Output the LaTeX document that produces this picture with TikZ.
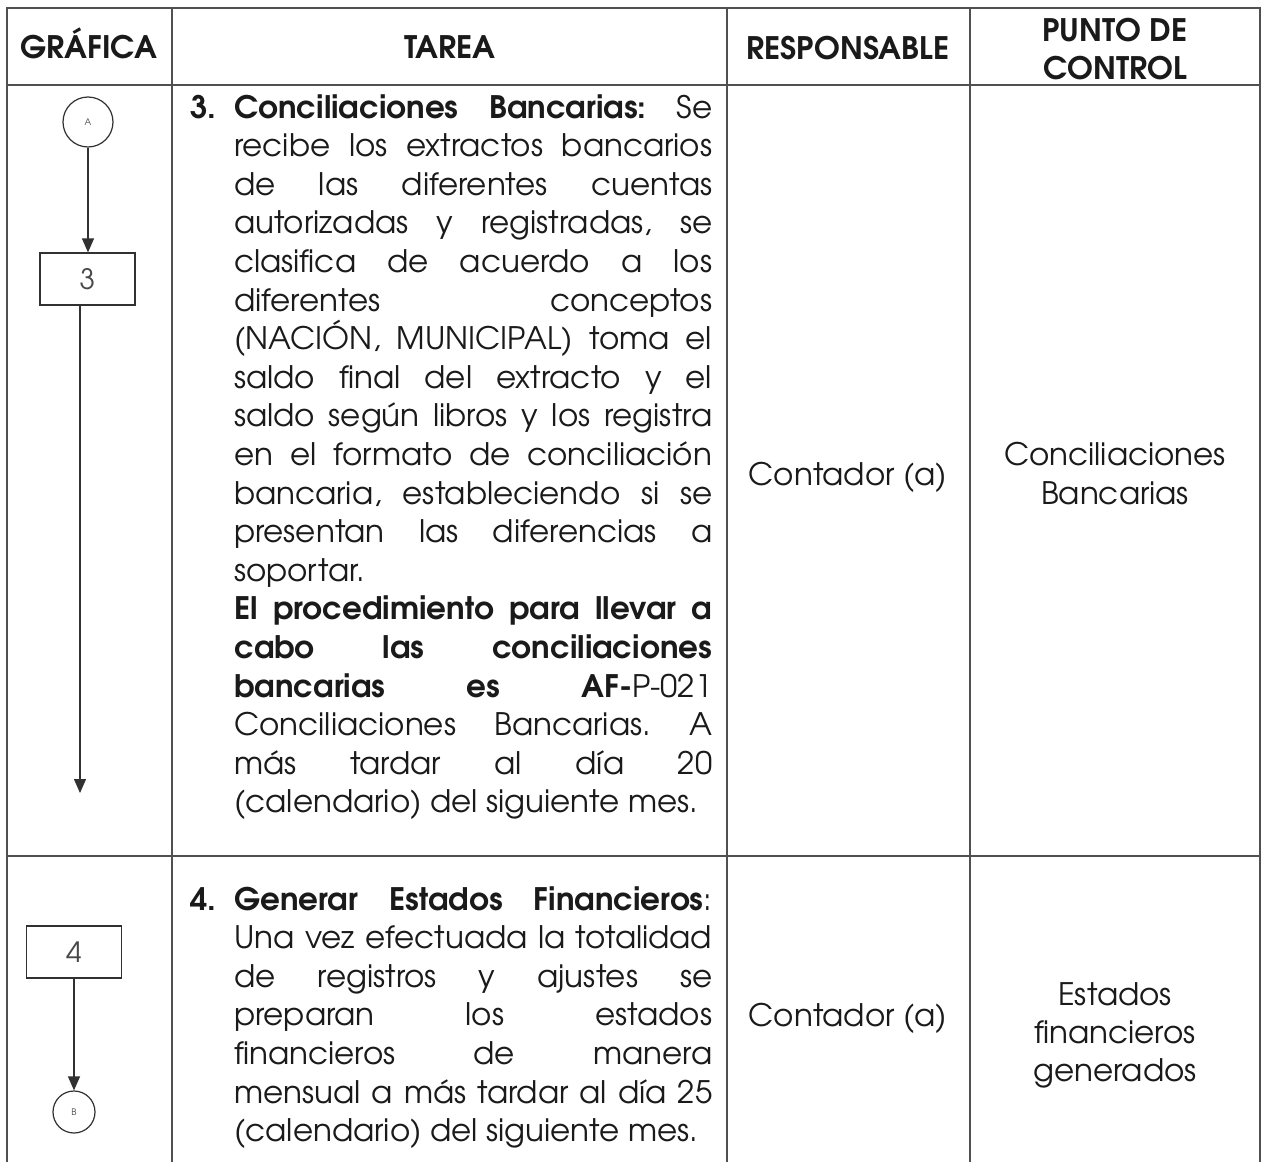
\documentclass[tikz,border=0pt]{standalone}
\usepackage{fontspec}
\setmainfont{TeX Gyre Adventor}
\usetikzlibrary{arrows.meta}
\definecolor{ink}{HTML}{1A1A1A}
\definecolor{rulec}{HTML}{505050}
\newcommand\jl[1]{\makebox[\linewidth][s]{#1}\par}
\newcommand\fl[1]{\makebox[\linewidth][l]{#1}\par}
\newcommand\numlab[1]{\llap{\makebox[44pt][l]{\bfseries #1}}}
\begin{document}
\begin{tikzpicture}[x=1pt,y=-1pt,
  gridline/.style={draw=rulec, line width=1.6pt},
  flow/.style={draw=ink!90, line width=1.2pt},
  arr/.style={flow, -{Triangle[length=14pt,width=12pt]}},
  connector/.style={circle, draw=ink!90, line width=1.2pt, minimum size=50pt, inner sep=0pt, text=ink!80, font=\fontsize{9}{10}\selectfont},
  stepbox/.style={rectangle, draw=ink!90, line width=1.2pt, minimum width=95pt, minimum height=52pt, inner sep=0pt, font=\fontsize{28}{32}\selectfont, text=ink!80},
  head/.style={font=\bfseries\fontsize{31}{36}\selectfont, text=ink, inner sep=0pt, anchor=base},
  body/.style={font=\fontsize{31}{38.6}\selectfont, text=ink, inner sep=0pt},
]
\useasboundingbox (0,0) rectangle (1262,1162);
\fill[white] (0,0) rectangle (1262,1162);
% table
\draw[gridline] (7,1162) -- (7,8) -- (1260,8) -- (1260,1162);
\draw[gridline] (7,85) -- (1260,85);
\draw[gridline] (7,856) -- (1260,856);
\foreach \x in {172,727,970} \draw[gridline] (\x,8) -- (\x,1162);
% headers
\node[head] (hg) at (89,58) {GRÁFICA};
\node[head] (ht) at (450,58) {TAREA};
\node[head] (hr) at (848,59) {RESPONSABLE};
\node[head] (hp1) at (1115,41) {PUNTO DE};
\node[head] (hp2) at (1115,79) {CONTROL};
% flow row 1
\node[connector] (A) at (88,122) {A};
\node[stepbox] (s3) at (87.5,279) {3};
\coordinate (e3) at (80,793);
\draw[arr] (A.south) -- (A.south |- s3.north);
\draw[arr] (s3.south -| e3) -- (e3);
% flow row 2
\node[stepbox] (s4) at (74,952) {4};
\node[connector, minimum size=42pt] (B) at (74,1112) {B};
\draw[arr] (s4.south -| B) -- (B.north);
% task texts
\node[body, anchor=base west] (t3) at (234,118) {\parbox[t]{478pt}{\frenchspacing
\jl{\numlab{3.}\textbf{Conciliaciones Bancarias:} Se}
\jl{recibe los extractos bancarios}
\jl{de las diferentes cuentas}
\jl{autorizadas y registradas, se}
\jl{clasifica de acuerdo a los}
\jl{diferentes conceptos}
\jl{(NACIÓN, MUNICIPAL) toma el}
\jl{saldo final del extracto y el}
\jl{saldo según libros y los registra}
\jl{en el formato de conciliación}
\jl{bancaria, estableciendo si se}
\jl{presentan las diferencias a}
\fl{soportar.}
\jl{\textbf{El procedimiento para llevar a}}
\jl{\textbf{cabo las conciliaciones}}
\jl{\textbf{bancarias es AF-}P-021}
\jl{Conciliaciones Bancarias. A}
\jl{más tardar al día 20}
\fl{(calendario) del siguiente mes.}}};
\node[body, anchor=base west] (t4) at (234,910) {\parbox[t]{478pt}{\frenchspacing
\jl{\numlab{4.}\textbf{Generar Estados Financieros}:}
\jl{Una vez efectuada la totalidad}
\jl{de registros y ajustes se}
\jl{preparan los estados}
\jl{financieros de manera}
\jl{mensual a más tardar al día 25}
\fl{(calendario) del siguiente mes.}}};
% responsible
\node[body, anchor=base] (r3) at (848,485) {Contador (a)};
\node[body, anchor=base] (r4) at (848,1026) {Contador (a)};
% control points
\node[body, anchor=base] (p3a) at (1115,465) {Conciliaciones};
\node[body, anchor=base] (p3b) at (1115,504) {Bancarias};
\node[body, anchor=base] (p4a) at (1115,1005) {Estados};
\node[body, anchor=base] (p4b) at (1115,1043) {financieros};
\node[body, anchor=base] (p4c) at (1115,1081) {generados};
\end{tikzpicture}
\end{document}
